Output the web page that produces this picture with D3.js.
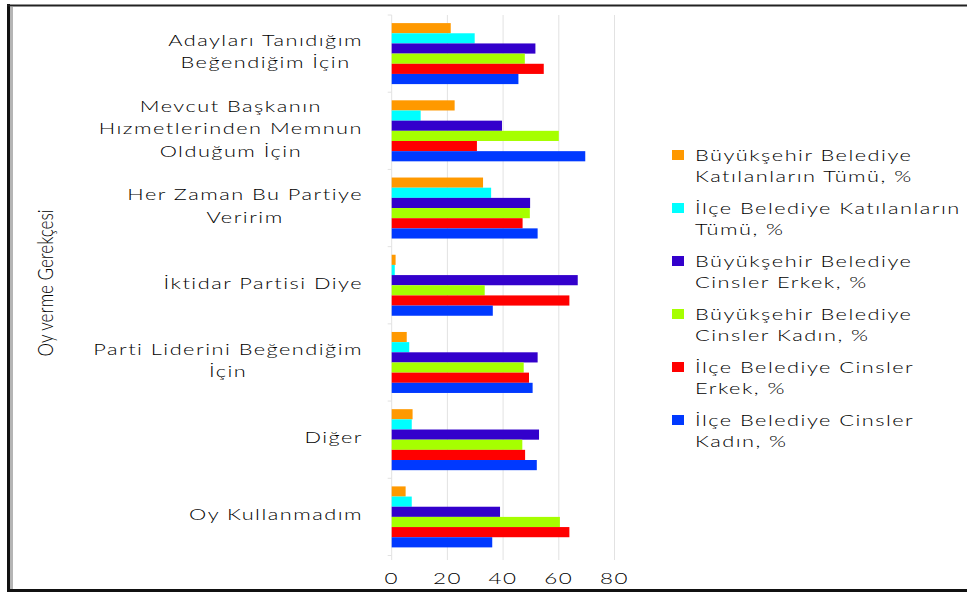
<!DOCTYPE html>
<html>
<head>
<meta charset="utf-8">
<script src="https://cdn.jsdelivr.net/npm/d3@7"></script>
<style>
  body { margin: 0; background: #fff; }
  text { font-family: Lato, "Open Sans", sans-serif; fill: #000; }
</style>
</head>
<body>
<script>
// categories, top to bottom
var categories = [
  "Adayları Tanıdığım\nBeğendiğim İçin",
  "Mevcut Başkanın\nHızmetlerinden Memnun\nOlduğum İçin",
  "Her Zaman Bu Partiye\nVeririm",
  "İktidar Partisi Diye",
  "Parti Liderini Beğendiğim\nİçin",
  "Diğer",
  "Oy Kullanmadım"
];

var seriesNames = [
  "Büyükşehir Belediye\nKatılanların Tümü, %",
  "İlçe Belediye Katılanların\nTümü, %",
  "Büyükşehir Belediye\nCinsler Erkek, %",
  "Büyükşehir Belediye\nCinsler Kadın, %",
  "İlçe Belediye Cinsler\nErkek, %",
  "İlçe Belediye Cinsler\nKadın, %"
];

// one array per series, same order as categories
var bbTumu   = [21.2, 22.6, 32.8,  1.4,  5.4,  7.5,  5.0];
var ilceTumu = [29.8, 10.4, 35.7,  1.1,  6.3,  7.2,  7.2];
var bbErkek  = [51.6, 39.6, 49.7, 66.8, 52.4, 52.9, 38.9];
var bbKadin  = [47.8, 60.0, 49.6, 33.4, 47.4, 46.9, 60.4];
var ilErkek  = [54.6, 30.6, 47.0, 63.8, 49.3, 47.9, 63.8];
var ilKadin  = [45.5, 69.5, 52.4, 36.3, 50.6, 52.1, 36.1];

var xTicks = [0, 20, 40, 60, 80];

var colors = ["#ff9900", "#00ffff", "#3300cc", "#a6ff00", "#ff0000", "#0039ff"];

var values = [bbTumu, ilceTumu, bbErkek, bbKadin, ilErkek, ilKadin];

var W = 967, H = 592;
var SX = 1.36; // the picture looks stretched sideways

var svg = d3.select("body").append("svg")
    .attr("width", W)
    .attr("height", H);

var x = d3.scaleLinear().domain([0, 80]).range([391.7, 614.5]);

var y = d3.scaleBand()
    .domain(d3.range(categories.length))
    .range([15, 555.5])
    .paddingInner(0.21)
    .paddingOuter(0.105);

var ySub = d3.scaleBand()
    .domain(d3.range(seriesNames.length))
    .range([0, y.bandwidth()]);

function stretchText(parent, px, py, str, anchor, size) {
  var g = parent.append("g").attr("transform", "translate(" + px + "," + py + ")");
  return g.append("text")
    .attr("transform", "scale(" + SX + ",1)")
    .attr("text-anchor", anchor)
    .attr("dy", "0.35em")
    .style("font-size", size + "px")
    .style("font-weight", 300)
    .style("letter-spacing", "1.1px")
    .text(str);
}

// gridlines
svg.append("g")
  .selectAll("line")
  .data(xTicks.slice(1))
  .enter().append("line")
    .attr("x1", d => x(d)).attr("x2", d => x(d))
    .attr("y1", 15).attr("y2", 560)
    .attr("stroke", "#e2e2e2")
    .attr("stroke-width", 1);

// category axis line + ticks
svg.append("line")
  .attr("x1", x(0)).attr("x2", x(0))
  .attr("y1", 15).attr("y2", 560)
  .attr("stroke", "#e2e2e2");

var step = y.step();
svg.append("g")
  .selectAll("line")
  .data(d3.range(categories.length + 1))
  .enter().append("line")
    .attr("x1", x(0) - 4).attr("x2", x(0))
    .attr("y1", d => 15 + d * step).attr("y2", d => 15 + d * step)
    .attr("stroke", "#e2e2e2");

// bars
var groups = svg.append("g")
  .selectAll("g")
  .data(categories)
  .enter().append("g")
    .attr("transform", (d, i) => "translate(0," + y(i) + ")");

groups.selectAll("rect")
  .data((d, i) => values.map((s, j) => ({ s: j, v: s[i] })))
  .enter().append("rect")
    .attr("x", x(0))
    .attr("y", d => ySub(d.s))
    .attr("width", d => x(d.v) - x(0))
    .attr("height", ySub.bandwidth())
    .attr("fill", d => colors[d.s]);

// x tick labels
xTicks.forEach(t => stretchText(svg, x(t), 578, t, "middle", 16.5));

// category labels, lines centred in a right-aligned block
var labelRight = 363, lineH = 22.5;
categories.forEach((c, i) => {
  var lines = c.split("\n");
  var cy = y(i) + y.bandwidth() / 2 - 2;
  var y0 = cy - (lines.length - 1) * lineH / 2;
  var maxW = 0;
  var nodes = lines.map((ln, k) => {
    var t = stretchText(svg, 0, y0 + k * lineH, ln, "middle", 16);
    maxW = Math.max(maxW, t.node().getComputedTextLength() * SX);
    return { t: t, yy: y0 + k * lineH };
  });
  var cx = labelRight - maxW / 2;
  nodes.forEach(n => d3.select(n.t.node().parentNode)
    .attr("transform", "translate(" + cx + "," + n.yy + ")"));
});

// axis title
svg.append("g")
  .attr("transform", "translate(46,283) scale(1.25,1) rotate(-90)")
  .append("text")
    .attr("text-anchor", "middle")
    .attr("dy", "0.35em")
    .style("font-size", "17px")
    .style("font-weight", 300)
    .text("Oy verme Gerekçesi");

// legend
var legend = svg.append("g");
seriesNames.forEach((s, i) => {
  var ly = 155 + i * 53;
  legend.append("rect")
    .attr("x", 672).attr("y", ly - 5)
    .attr("width", 12).attr("height", 10)
    .attr("fill", colors[i]);
  s.split("\n").forEach((ln, k) => stretchText(legend, 695, ly + k * 21, ln, "start", 16));
});

// frame
svg.append("rect").attr("x", 10).attr("y", 7).attr("width", 3).attr("height", 582).attr("fill", "#b5b5b5");
svg.append("line").attr("x1", 8.5).attr("x2", 8.5).attr("y1", 4).attr("y2", 592).attr("stroke", "#111").attr("stroke-width", 3);
svg.append("line").attr("x1", 7).attr("x2", W).attr("y1", 5.5).attr("y2", 5.5).attr("stroke", "#222").attr("stroke-width", 2);
svg.append("line").attr("x1", 7).attr("x2", W).attr("y1", 590.5).attr("y2", 590.5).attr("stroke", "#111").attr("stroke-width", 3);
</script>
</body>
</html>
